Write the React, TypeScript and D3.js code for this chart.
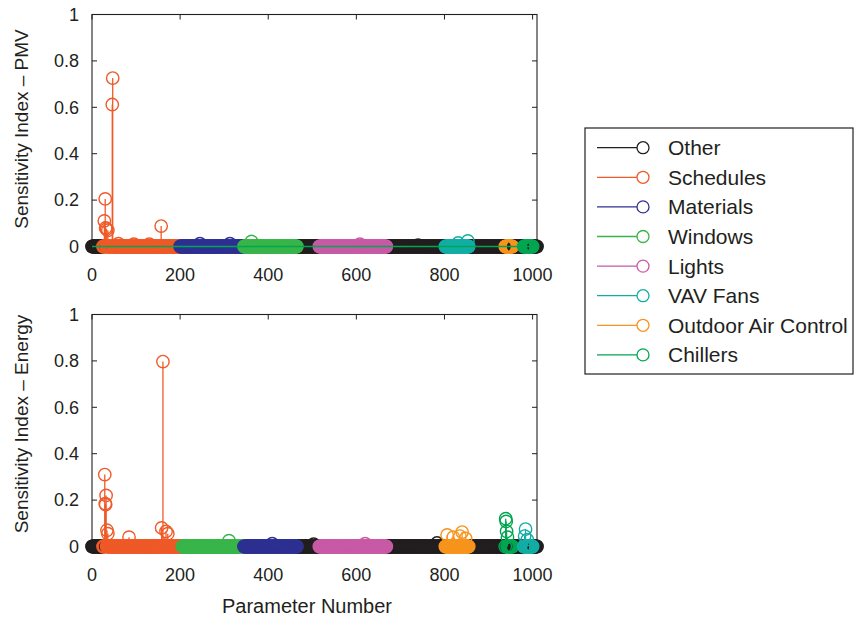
import React from 'react';
import * as d3 from 'd3';

const categories = ['Other', 'Schedules', 'Materials', 'Windows', 'Lights', 'VAV Fans', 'Outdoor Air Control', 'Chillers'];
const colors = ['#231f20', '#ef5a28', '#2e3192', '#39b54a', '#c85aa6', '#12aea5', '#f7941d', '#00a651'];
const xTicks = [0, 200, 400, 600, 800, 1000];
const yTicks = [0, 0.2, 0.4, 0.6, 0.8, 1];
const yTickLabels = ['0', '0.2', '0.4', '0.6', '0.8', '1'];
const lastParameter = 1010;

// [category index, first parameter, last parameter]; everything else is "Other"
const pmvGroups = [[1, 25, 199], [2, 200, 344], [3, 345, 465], [4, 516, 668], [5, 802, 855], [6, 938, 954], [7, 980, 1000]];
const energyGroups = [[1, 25, 204], [3, 205, 344], [2, 345, 465], [4, 516, 668], [6, 802, 855], [7, 938, 954], [5, 980, 1000]];

// [parameter, sensitivity index] for parameters visibly above zero
const pmvPeaks = [
  [28, 0.11], [30, 0.205], [31, 0.08], [33, 0.075], [36, 0.07], [46, 0.612], [47, 0.726],
  [60, 0.012], [95, 0.01], [130, 0.01], [157, 0.088],
  [245, 0.012], [313, 0.012], [362, 0.022], [608, 0.01], [740, 0.006], [831, 0.015], [853, 0.024],
];
const energyPeaks = [
  [29, 0.31], [30, 0.185], [31, 0.18], [32, 0.22], [34, 0.07], [36, 0.055], [84, 0.04],
  [158, 0.08], [161, 0.797], [168, 0.065], [172, 0.055],
  [311, 0.025], [409, 0.012], [503, 0.01], [620, 0.012], [783, 0.015],
  [806, 0.05], [820, 0.04], [835, 0.045], [840, 0.062], [848, 0.035],
  [939, 0.12], [940, 0.108], [941, 0.065], [943, 0.04],
  [982, 0.045], [984, 0.075], [988, 0.03],
];

const FONT = '"Liberation Sans", Arial, Helvetica, sans-serif';
const INK = '#231f20';

function buildSeries(groups: number[][], peaks: number[][]) {
  const peakMap = new Map<number, number>(peaks.map((d) => [d[0], d[1]]));
  const params = d3.range(0, lastParameter + 1);
  const catOf = (p: number) => {
    const g = groups.find((g) => p >= g[1] && p <= g[2]);
    return g ? g[0] : 0;
  };
  const pts = params.map((p) => ({ p, c: catOf(p), v: peakMap.get(p) ?? 0 }));
  // draw order: Other first, then groups in the order they appear along x
  const order = [0, ...groups.map((g) => g[0])];
  return order.map((c) => ({ c, pts: pts.filter((d) => d.c === c) }));
}

const x = d3.scaleLinear().domain([0, lastParameter]).range([92, 537]);

function Panel({ top, bottom, groups, peaks, label, labelY, baseline }: any) {
  const y = d3.scaleLinear().domain([0, 1]).range([bottom, top]);
  const series = buildSeries(groups, peaks);
  const x0 = x(0), x1 = x(lastParameter);
  const tl = 5;
  return (
    <g>
      <rect x={x0} y={y(1)} width={x1 - x0} height={y(0) - y(1)} fill="none" stroke={INK} strokeWidth={1.1} />
      {yTicks.map((t, i) => (
        <g key={'y' + i}>
          <line x1={x0} x2={x0 + tl} y1={y(t)} y2={y(t)} stroke={INK} strokeWidth={1} />
          <line x1={x1} x2={x1 - tl} y1={y(t)} y2={y(t)} stroke={INK} strokeWidth={1} />
          <text x={79} y={y(t)} dy="0.35em" textAnchor="end" fontSize={18} fontFamily={FONT} fill={INK}>{yTickLabels[i]}</text>
        </g>
      ))}
      {xTicks.map((t, i) => (
        <g key={'x' + i}>
          <line x1={x(t)} x2={x(t)} y1={y(0)} y2={y(0) - tl} stroke={INK} strokeWidth={1} />
          <line x1={x(t)} x2={x(t)} y1={y(1)} y2={y(1) + tl} stroke={INK} strokeWidth={1} />
          <text x={x(t)} y={y(0) + 34} textAnchor="middle" fontSize={18} fontFamily={FONT} fill={INK}>{t}</text>
        </g>
      ))}
      {series.map((s) => (
        <g key={'s' + s.c}>
          {s.pts.filter((d) => d.v > 0).map((d) => (
            <line key={'l' + d.p} x1={x(d.p)} x2={x(d.p)} y1={y(0)} y2={y(d.v)} stroke={colors[s.c]} strokeWidth={1.3} />
          ))}
          {s.pts.map((d) => (
            <circle key={'c' + d.p} cx={x(d.p)} cy={y(d.v)} r={6.2} fill="none" stroke={colors[s.c]} strokeWidth={1.4} />
          ))}
        </g>
      ))}
      {baseline && (
        <line x1={x0} x2={x1} y1={y(0)} y2={y(0)} stroke={colors[7]} strokeWidth={1.6} />
      )}
      <text transform={`translate(28,${labelY}) rotate(-90)`} textAnchor="middle" fontSize={19} fontFamily={FONT} fill={INK}>{label}</text>
    </g>
  );
}

export default function App() {
  const legendX = 585, legendY = 128, rowH = 29.6;
  return (
    <svg width={855} height={622} style={{ position: 'absolute', left: 0, top: 0, background: '#fff' }}>
      <Panel top={14.5} bottom={246.5} groups={pmvGroups} peaks={pmvPeaks} label="Sensitivity Index – PMV" labelY={129} baseline />
      <Panel top={314.5} bottom={546.5} groups={energyGroups} peaks={energyPeaks} label="Sensitivity Index – Energy" labelY={424} baseline={false} />
      <text x={307} y={613} textAnchor="middle" fontSize={20} fontFamily={FONT} fill={INK}>Parameter Number</text>
      <g>
        <rect x={legendX} y={legendY} width={268} height={246} fill="#fff" stroke={INK} strokeWidth={1.2} />
        {categories.map((name, i) => {
          const cy = legendY + 19.7 + i * rowH;
          return (
            <g key={name}>
              <line x1={597} x2={637} y1={cy} y2={cy} stroke={colors[i]} strokeWidth={1.3} />
              <circle cx={643} cy={cy} r={6} fill="none" stroke={colors[i]} strokeWidth={1.3} />
              <text x={668} y={cy} dy="0.36em" fontSize={21} fontFamily={FONT} fill={INK}>{name}</text>
            </g>
          );
        })}
      </g>
    </svg>
  );
}
